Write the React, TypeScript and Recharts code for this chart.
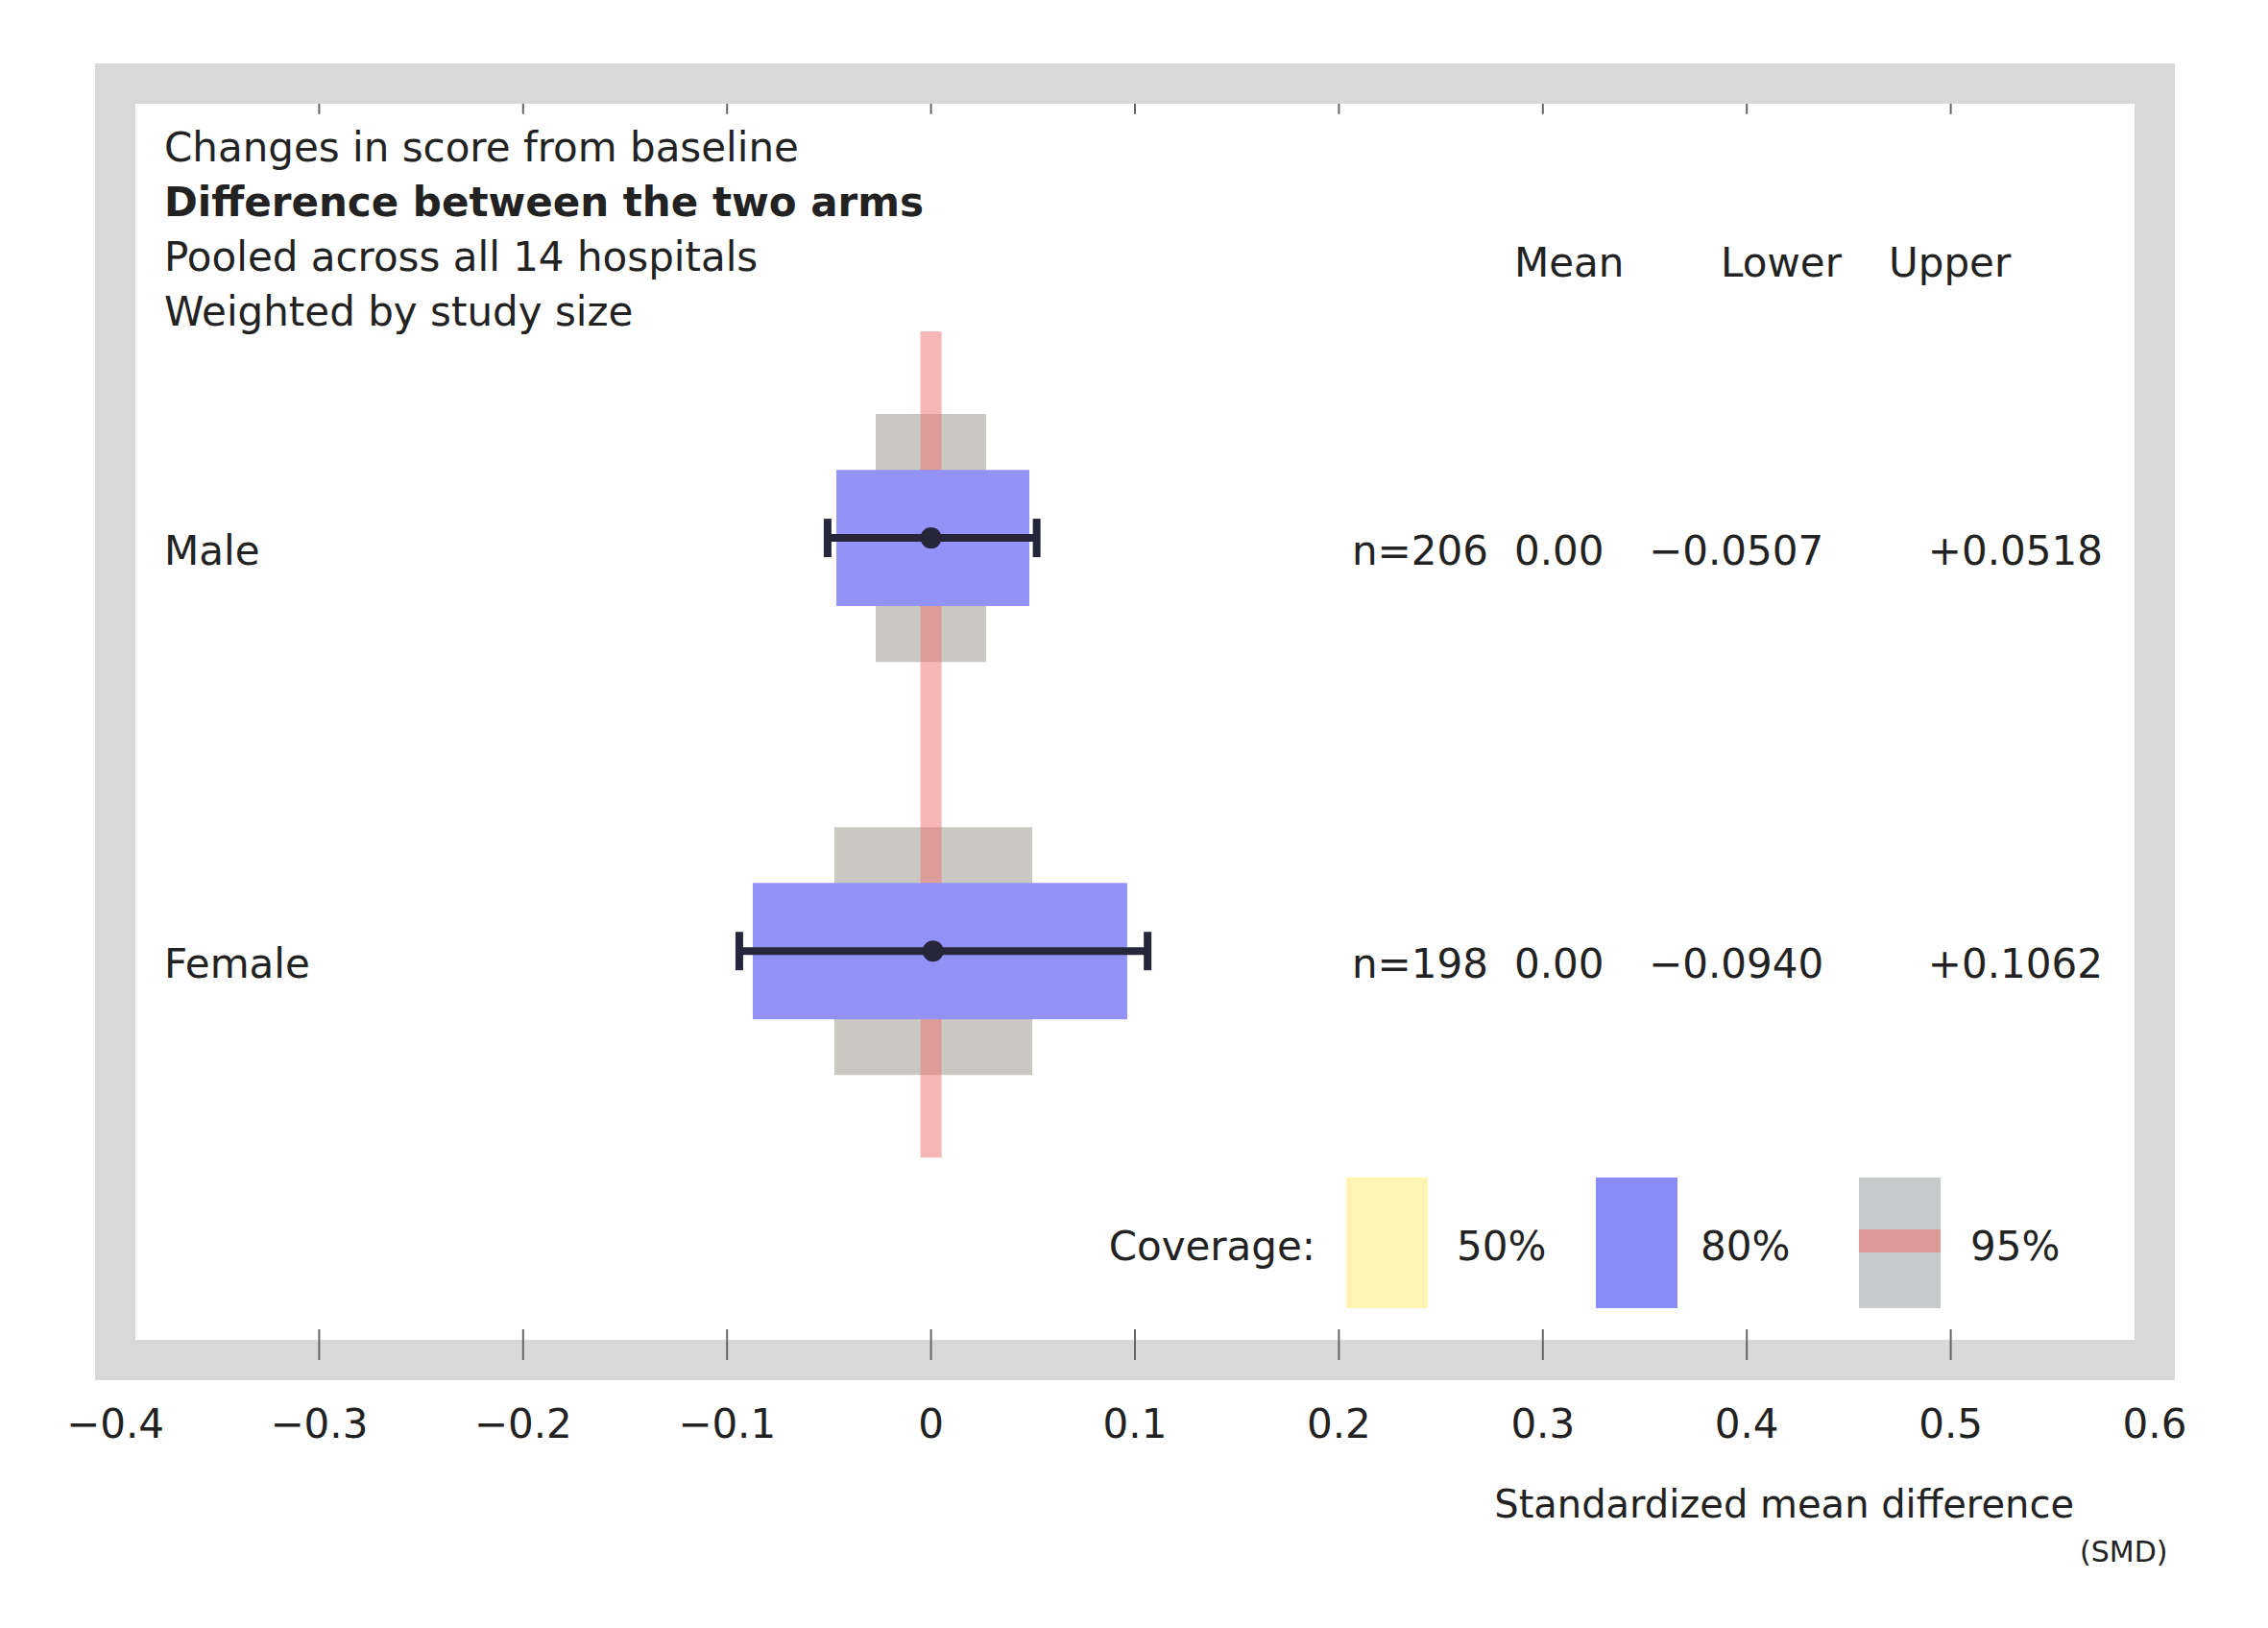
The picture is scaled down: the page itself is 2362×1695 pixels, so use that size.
import React from 'react';
import { ComposedChart, XAxis, YAxis, ReferenceArea, ReferenceLine, Scatter, ErrorBar } from 'recharts';

// ---------- data ----------
const rowLabels = ['Male', 'Female'];
const rowPositions = [1, 2];
const sampleSizes = [206, 198];
const estimates = [0.0, 0.001];
const ciLower = [-0.0507, -0.094];
const ciUpper = [0.0518, 0.1062];
const boxLower = [-0.0464, -0.0874];
const boxUpper = [0.0482, 0.0962];
const innerLower = [-0.0271, -0.0474];
const innerUpper = [0.027, 0.0496];
const referenceValue = 0;

const xTicks = [-0.4, -0.3, -0.2, -0.1, 0, 0.1, 0.2, 0.3, 0.4, 0.5, 0.6];
const xTickLabels = ['\u22120.4', '\u22120.3', '\u22120.2', '\u22120.1', '0', '0.1', '0.2', '0.3', '0.4', '0.5', '0.6'];

const titleLines = [
  'Changes in score from baseline',
  'Difference between the two arms',
  'Pooled across all 14 hospitals',
  'Weighted by study size',
];
const columnHeaders = ['Mean', 'Lower', 'Upper'];
const legendTitle = 'Coverage:';
const legendLabels = ['50%', '80%', '95%'];
const xAxisTitle = 'Standardized mean difference';
const xAxisNote = '(SMD)';

// ---------- styles ----------
const FONT = 'DejaVu Sans, Liberation Sans, sans-serif';
const TEXT = '#222222';
const FRAME = '#d8d8d8';
const FRAME_W = 42;
const BLUE = '#9292f8';
const GRAY = '#c9c9c1';
const RED = '#f07070';
const YELLOW = '#fff4b4';
const DARK = '#26263a';
const TICK = '#666666';

const Y_DOMAIN: [number, number] = [-0.1, 2.99];
const BOX_HALF = 0.165;
const INNER_HALF = 0.3;
const REF_HALF = 0.5;
const REF_BAND_HALF = 0.0052;
const TOP_TICK_LEN = 0.074;

const fmt = (v: number, d: number) => (v < 0 ? '\u2212' : '') + Math.abs(v).toFixed(d);
const fmtSigned = (v: number, d: number) => (v < 0 ? '\u2212' : '+') + Math.abs(v).toFixed(d);

const rows = rowPositions.map((r, i) => ({
  y: r,
  x: estimates[i],
  err: [estimates[i] - ciLower[i], ciUpper[i] - estimates[i]],
}));

const BottomTick = (props: any) => {
  const { x, y, index } = props;
  return (
    <text x={x} y={y + 26} textAnchor="middle" fontFamily={FONT} fontSize={42} fill={TEXT}>
      {xTickLabels[index]}
    </text>
  );
};

const RowTick = (props: any) => {
  const { y, index } = props;
  const i = index;
  const base = y + 28;
  return (
    <g fontFamily={FONT} fontSize={42} fill={TEXT}>
      <text x={171} y={base}>{rowLabels[i]}</text>
      <text x={1408} y={base}>{'n=' + sampleSizes[i]}</text>
      <text x={1577} y={base}>{fmt(estimates[i], 2)}</text>
      <text x={1717} y={base}>{fmtSigned(ciLower[i], 4)}</text>
      <text x={2190} y={base} textAnchor="end">{fmtSigned(ciUpper[i], 4)}</text>
    </g>
  );
};

const EmptyTick = () => <g />;

const Dot = (props: any) => <circle cx={props.cx} cy={props.cy} r={11} fill={DARK} />;

const frameLine = { stroke: FRAME, strokeWidth: FRAME_W, strokeLinecap: 'square' as const };

export default function App() {
  const legendSwatchX = [1402, 1662, 1936];
  const legendTextX = [1517, 1771, 2052];
  const legendFills = [YELLOW, '#8a8af8', '#c6caca'];
  return (
    <div style={{ position: 'absolute', left: 0, top: 0, width: 2362, height: 1695, background: '#ffffff' }}>
      <ComposedChart
        width={2362}
        height={1695}
        data={rows}
        margin={{ top: 86, right: 117, bottom: 278, left: 119 }}
      >
        <XAxis
          dataKey="x"
          type="number"
          domain={[-0.4, 0.6]}
          ticks={xTicks}
          allowDataOverflow
          height={1}
          tickSize={-32}
          tickMargin={87}
          tick={BottomTick}
          tickLine={{ stroke: TICK, strokeWidth: 2 }}
          axisLine={frameLine}
          interval={0}
        />
        <XAxis
          xAxisId="top"
          orientation="top"
          type="number"
          domain={[-0.4, 0.6]}
          ticks={xTicks}
          allowDataOverflow
          height={1}
          tick={false}
          tickLine={false}
          axisLine={frameLine}
          interval={0}
        />
        <YAxis
          dataKey="y"
          type="number"
          domain={Y_DOMAIN}
          reversed
          allowDataOverflow
          ticks={rowPositions}
          width={1}
          tick={RowTick}
          tickLine={false}
          axisLine={frameLine}
          interval={0}
        />
        <YAxis
          yAxisId="right"
          orientation="right"
          type="number"
          domain={Y_DOMAIN}
          reversed
          allowDataOverflow
          width={1}
          tick={EmptyTick}
          tickLine={false}
          axisLine={frameLine}
        />
        {xTicks.map((t, i) => (
          <ReferenceLine
            key={'tt' + i}
            segment={[
              { x: t, y: Y_DOMAIN[0] },
              { x: t, y: Y_DOMAIN[0] + TOP_TICK_LEN },
            ]}
            stroke={TICK}
            strokeWidth={2}
            ifOverflow="visible"
          />
        ))}
        {rowPositions.map((r, i) => (
          <ReferenceArea
            key={'inner' + i}
            x1={innerLower[i]}
            x2={innerUpper[i]}
            y1={r - INNER_HALF}
            y2={r + INNER_HALF}
            fill={GRAY}
            fillOpacity={1}
            stroke="none"
          />
        ))}
        <ReferenceArea
          x1={referenceValue - REF_BAND_HALF}
          x2={referenceValue + REF_BAND_HALF}
          y1={rowPositions[0] - REF_HALF}
          y2={rowPositions[rowPositions.length - 1] + REF_HALF}
          fill={RED}
          fillOpacity={0.5}
          stroke="none"
        />
        {rowPositions.map((r, i) => (
          <ReferenceArea
            key={'box' + i}
            x1={boxLower[i]}
            x2={boxUpper[i]}
            y1={r - BOX_HALF}
            y2={r + BOX_HALF}
            fill={BLUE}
            fillOpacity={1}
            stroke="none"
          />
        ))}
        <Scatter dataKey="y" shape={Dot} isAnimationActive={false}>
          <ErrorBar dataKey="err" direction="x" width={20} stroke={DARK} strokeWidth={8} isAnimationActive={false} />
        </Scatter>
      </ComposedChart>

      <svg
        width={2362}
        height={1695}
        style={{ position: 'absolute', left: 0, top: 0, pointerEvents: 'none' }}
        fontFamily={FONT}
      >
        {titleLines.map((t, i) => (
          <text
            key={'t' + i}
            x={171}
            y={168 + i * 57}
            fontSize={42}
            fontWeight={i === 1 ? 'bold' : 'normal'}
            fill={TEXT}
          >
            {t}
          </text>
        ))}
        <text x={1577} y={288} fontSize={42} fill={TEXT}>{columnHeaders[0]}</text>
        <text x={1855} y={288} fontSize={42} fill={TEXT} textAnchor="middle">{columnHeaders[1]}</text>
        <text x={1967} y={288} fontSize={42} fill={TEXT}>{columnHeaders[2]}</text>

        <text x={1370} y={1312} fontSize={42} fill={TEXT} textAnchor="end">{legendTitle}</text>
        {legendLabels.map((l, i) => (
          <g key={'lg' + i}>
            <rect x={legendSwatchX[i]} y={1226} width={85} height={136} fill={legendFills[i]} />
            {i === 2 && (
              <rect x={legendSwatchX[i]} y={1280} width={85} height={24} fill={RED} fillOpacity={0.55} />
            )}
            <text x={legendTextX[i]} y={1312} fontSize={42} fill={TEXT}>{l}</text>
          </g>
        ))}

        <text x={2160} y={1580} fontSize={40} fill={TEXT} textAnchor="end">{xAxisTitle}</text>
        <text x={2166} y={1626} fontSize={30} fill={TEXT}>{xAxisNote}</text>
      </svg>
    </div>
  );
}
